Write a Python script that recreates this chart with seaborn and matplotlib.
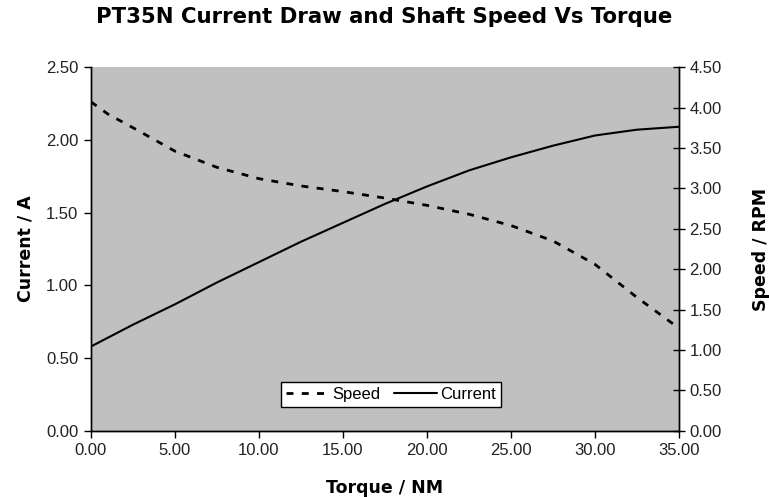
import pandas as pd
import matplotlib
matplotlib.use("Agg")
import matplotlib.pyplot as plt
import seaborn as sns

# Values
torque = [0.0, 1.0, 2.5, 5.0, 7.5, 10.0, 12.5, 15.0, 17.5, 20.0, 22.5, 25.0, 27.5, 30.0, 32.5, 35.0]
current = [0.58, 0.64, 0.73, 0.87, 1.02, 1.16, 1.30, 1.43, 1.56, 1.68, 1.79, 1.88, 1.96, 2.03, 2.07, 2.09]
speed = [4.07, 3.92, 3.75, 3.46, 3.26, 3.12, 3.03, 2.96, 2.88, 2.79, 2.68, 2.54, 2.35, 2.06, 1.65, 1.27]

x_ticks = [0, 5, 10, 15, 20, 25, 30, 35]
current_ticks = [0, 0.5, 1.0, 1.5, 2.0, 2.5]
speed_ticks = [0, 0.5, 1.0, 1.5, 2.0, 2.5, 3.0, 3.5, 4.0, 4.5]

df = pd.DataFrame({"torque": torque, "current": current, "speed": speed})

sns.set_style("white")
plt.rcParams["font.family"] = ["Liberation Sans", "DejaVu Sans"]
plt.rcParams["text.color"] = "black"
plt.rcParams["axes.labelcolor"] = "black"

fig = plt.figure(figsize=(7.69, 4.97), dpi=100)
ax = fig.add_axes([0.1183, 0.133, 0.7647, 0.732])
ax.set_facecolor("#c0c0c0")
ax2 = ax.twinx()

sns.lineplot(x="torque", y="current", data=df, ax=ax, color="black", linewidth=1.5, label="Current")
sns.lineplot(x="torque", y="speed", data=df, ax=ax2, color="black", linewidth=2.0,
             linestyle=(0, (2.5, 3)), label="Speed")

ax.set_xlim(0, 35)
ax.set_ylim(0, 2.5)
ax2.set_ylim(0, 4.5)
ax.set_xticks(x_ticks)
ax.set_xticklabels([f"{v:.2f}" for v in x_ticks])
ax.set_yticks(current_ticks)
ax.set_yticklabels([f"{v:.2f}" for v in current_ticks])
ax2.set_yticks(speed_ticks)
ax2.set_yticklabels([f"{v:.2f}" for v in speed_ticks])

for a in (ax, ax2):
    for s in ("left", "bottom", "right"):
        a.spines[s].set_color("black")
        a.spines[s].set_linewidth(1.0)
    a.spines["top"].set_visible(False)

ax.tick_params(axis="both", direction="out", length=5, width=1, color="black",
               labelsize=12, labelcolor="#222222", left=True, bottom=True, pad=4)
ax2.tick_params(axis="y", direction="inout", length=9, width=1, color="black",
                labelsize=12, labelcolor="#222222", right=True, pad=3)

label_font = dict(family="DejaVu Sans", fontsize=12.5, fontweight="bold", color="black")
ax.set_xlabel("Torque / NM", labelpad=15, **label_font)
ax.set_ylabel("Current / A", labelpad=8, **label_font)
ax2.set_ylabel("Speed / RPM", labelpad=22, **label_font)
fig.suptitle("PT35N Current Draw and Shaft Speed Vs Torque", family="DejaVu Sans",
             fontsize=15.3, fontweight="bold", y=0.985)

ax.get_legend().remove()
ax2.get_legend().remove()
h1, l1 = ax.get_legend_handles_labels()
h2, l2 = ax2.get_legend_handles_labels()
leg = ax2.legend(h2 + h1, l2 + l1, ncol=2, loc="lower center", bbox_to_anchor=(0.51, 0.065),
                 frameon=True, fancybox=False, fontsize=12, handlelength=2.6,
                 handletextpad=0.2, columnspacing=0.8, borderpad=0.3, borderaxespad=0)
leg.get_frame().set_edgecolor("black")
leg.get_frame().set_linewidth(1.0)
leg.get_frame().set_alpha(1)

fig.savefig("out.png", dpi=100)
